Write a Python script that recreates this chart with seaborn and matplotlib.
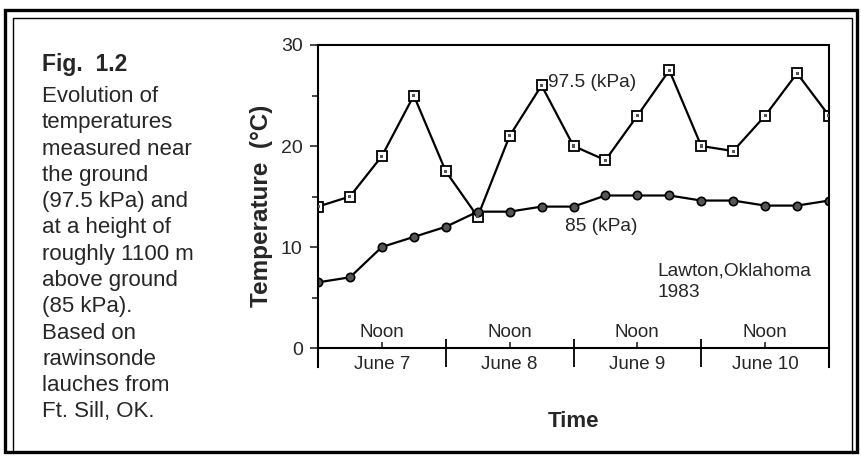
import pandas as pd
import seaborn as sns
import matplotlib.pyplot as plt
from matplotlib.patches import Rectangle

# 6-hourly soundings, June 7 00h to June 11 00h
hours = list(range(0, 97, 6))
t_975 = [14.0, 15.0, 19.0, 25.0, 17.5, 13.0, 21.0, 26.0, 20.0, 18.6, 23.0, 27.5, 20.0, 19.5, 23.0, 27.2, 23.0]
t_85 = [6.5, 7.0, 10.0, 11.0, 12.0, 13.5, 13.5, 14.0, 14.0, 15.1, 15.1, 15.1, 14.6, 14.6, 14.1, 14.1, 14.6]
noon_hours = [12, 36, 60, 84]
day_labels = ['June 7', 'June 8', 'June 9', 'June 10']
day_bounds = [24, 48, 72]

sns.set_style('ticks')
plt.rcParams['font.family'] = ['Liberation Sans', 'DejaVu Sans']

df = pd.DataFrame({'hour': hours, 't975': t_975, 't85': t_85})

fig = plt.figure(figsize=(8.61, 4.57), dpi=100)
ax = fig.add_axes([318 / 861, 1 - 367 / 457, 511 / 861, 322 / 457])

sns.lineplot(data=df, x='hour', y='t975', ax=ax, color='black', linewidth=1.6,
             marker='s', markersize=6.5, markerfacecolor='white',
             markeredgecolor='black', markeredgewidth=1.3)
sns.scatterplot(data=df, x='hour', y='t975', ax=ax, marker='s', s=5, color='#555555',
                edgecolor='none', zorder=5)
sns.lineplot(data=df, x='hour', y='t85', ax=ax, color='black', linewidth=1.6,
             marker='o', markersize=6, markerfacecolor='#555555',
             markeredgecolor='black', markeredgewidth=1.2)

ax.set_xlim(0, 96)
ax.set_ylim(-1.88, 30)
ax.spines['bottom'].set_position(('data', 0))
for side in ['left', 'right', 'top', 'bottom']:
    ax.spines[side].set_linewidth(1.5)
    ax.spines[side].set_color('black')

ax.set_xticks(noon_hours)
ax.set_xticklabels(day_labels, fontsize=13.5)
ax.tick_params(axis='x', direction='in', length=4, width=1.2, pad=6)
ax.set_yticks([0, 10, 20, 30])
ax.set_yticks([5, 15, 25], minor=True)
ax.tick_params(axis='y', which='major', direction='out', length=6, width=1.2, labelsize=14, pad=5)
ax.tick_params(axis='y', which='minor', direction='out', length=4, width=1.2)

ax.vlines(day_bounds, -1.88, 0.9, color='black', linewidth=1.3)
for h in noon_hours:
    ax.text(h, 1.55, 'Noon', ha='center', va='center', fontsize=13.5)

ax.text(43.2, 26.3, '97.5 (kPa)', ha='left', va='center', fontsize=13.8)
ax.text(46.4, 12.0, '85 (kPa)', ha='left', va='center', fontsize=13.8)
ax.text(63.7, 6.6, 'Lawton,Oklahoma\n1983', ha='left', va='center', fontsize=13.8, linespacing=1.35)

ax.set_ylabel('Temperature  (°C)', fontsize=17.5, fontweight='bold', labelpad=6)
ax.set_xlabel('Time', fontsize=16, fontweight='bold', labelpad=27)

fig.text(42 / 861, 1 - 65 / 457, 'Fig.  1.2', fontsize=16.5, fontweight='bold', va='center')
caption = ('Evolution of\ntemperatures\nmeasured near\nthe ground\n(97.5 kPa) and\n'
           'at a height of\nroughly 1100 m\nabove ground\n(85 kPa).\nBased on\n'
           'rawinsonde\nlauches from\nFt. Sill, OK.')
fig.text(42 / 861, 1 - 86 / 457, caption, fontsize=16, va='top', linespacing=1.33)

fig.add_artist(Rectangle((5 / 861, 5 / 457), 852 / 861, 442 / 457, transform=fig.transFigure,
                         fill=False, edgecolor='black', linewidth=2.4))
fig.add_artist(Rectangle((13 / 861, 5 / 457), 839 / 861, 434 / 457, transform=fig.transFigure,
                         fill=False, edgecolor='black', linewidth=1.0))

fig.savefig('out.png', dpi=100)
